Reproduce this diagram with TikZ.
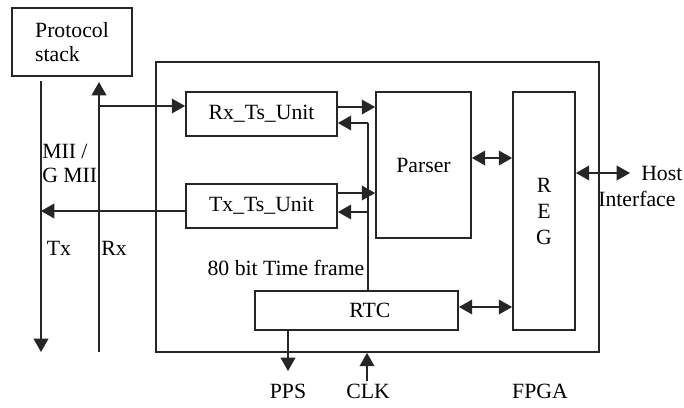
\documentclass[tikz,border=0pt]{standalone}
\usepackage{fontspec}
\setmainfont{Liberation Serif}
\usetikzlibrary{arrows.meta}

\tikzset{
  box/.style={draw=black!85, line width=1.3pt, inner sep=0pt},
  arr/.style={draw=black!85, line width=1.3pt, -{Triangle[length=10pt,width=11pt]}},
  biarr/.style={draw=black!85, line width=1.3pt, {Triangle[length=10pt,width=11pt]}-{Triangle[length=10pt,width=11pt]}},
  wire/.style={draw=black!85, line width=1.3pt},
  lbl/.style={inner sep=0pt}
}

\begin{document}
\begin{tikzpicture}[x=0.75pt, y=-0.75pt, font=\fontsize{16.3}{18}\selectfont]
\useasboundingbox (0,0) rectangle (684,407);

% blocks
\node[box, minimum width=90pt, minimum height=51pt, align=left] (stack) at (72,42) {Protocol\\stack};
\node[box, minimum width=332.25pt, minimum height=217.5pt] (fpga) at (377.5,207) {};
\node[box, minimum width=113.25pt, minimum height=33pt] (rx) at (261.5,114) {Rx\_Ts\_Unit};
\node[box, minimum width=113.25pt, minimum height=33pt] (tx) at (261.5,206) {Tx\_Ts\_Unit};
\node[box, minimum width=71.25pt, minimum height=109.5pt] (parser) at (423.5,165) {Parser};
\node[box, minimum width=46.5pt, minimum height=178.5pt, align=center,
      font=\fontsize{16.3}{19.5}\selectfont] (reg) at (544,211) {R\\E\\G};
\node[box, minimum width=152.25pt, minimum height=29.25pt,
      label={[lbl, xshift=10pt]center:RTC}] (rtc) at (356.5,310.5) {};

% labels
\node[lbl, anchor=west, align=left] (mii) at (42,163) {MII /\\G MII};
\node[lbl] (txl) at (59,248) {Tx};
\node[lbl] (rxl) at (114,248) {Rx};
\node[lbl] (frame) at (286,268) {80 bit Time frame};
\node[lbl, anchor=west] (host) at (641,173) {Host};
\node[lbl, anchor=west] (iface) at (598,199) {Interface};
\node[lbl] (pps) at (288,391) {PPS};
\node[lbl] (clk) at (368,391) {CLK};
\node[lbl] (fpgal) at (540,391) {FPGA};

% MII lines
\coordinate (txtop) at (41,81);
\coordinate (txbot) at (41,352);
\coordinate (rxtop) at (99,82);
\coordinate (rxbot) at (99,352);
\coordinate (rxtap) at (99,106);
\draw[arr] (txtop) -- (txbot);
\draw[arr] (rxbot) -- (rxtop);
\draw[arr] (rxtap) -- (rxtap -| rx.west);
\draw[arr] (tx.west |- 0,211) -- (txtop |- 0,211);

% time frame bus
\coordinate (busrx) at (368,123);
\coordinate (bustx) at (368,212);
\draw[wire] (rtc.north -| busrx) -- (busrx);
\draw[arr] (busrx) -- (busrx -| rx.east);
\draw[arr] (bustx) -- (bustx -| tx.east);

% to parser
\draw[arr] (rx.east |- 0,107) -- (parser.west |- 0,107);
\draw[arr] (tx.east |- 0,193) -- (parser.west |- 0,193);

% register links
\draw[biarr] (parser.east |- 0,158) -- (reg.west |- 0,158);
\draw[biarr] (rtc.east |- 0,307) -- (reg.west |- 0,307);
\coordinate (hostend) at (630,173);
\draw[biarr] (reg.east |- hostend) -- (hostend);

% PPS and CLK
\coordinate (ppsend) at (288,371);
\coordinate (clkstart) at (367,381);
\draw[arr] (rtc.south -| ppsend) -- (ppsend);
\draw[arr] (clkstart) -- (clkstart |- fpga.south);
\end{tikzpicture}
\end{document}
